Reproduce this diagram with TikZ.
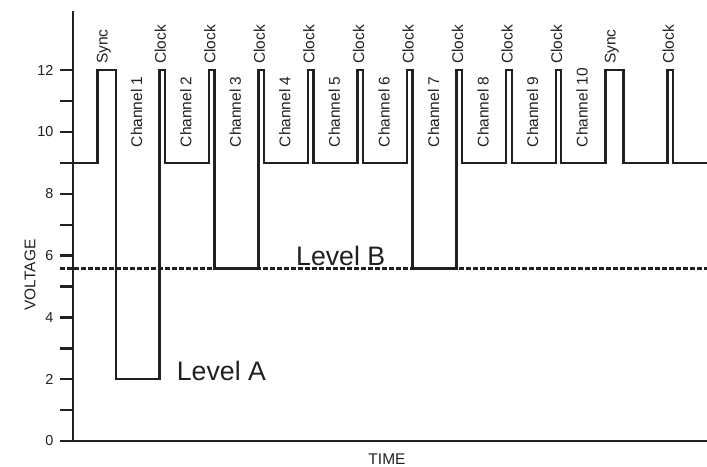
\documentclass[tikz,border=0pt]{standalone}
\usepackage{fontspec}
\setmainfont{Liberation Sans}
\usepackage{xcolor}
\definecolor{sigline}{HTML}{231F20}
\usetikzlibrary{positioning}

\tikzset{
  axisline/.style={line width=2.6pt,sigline},
  tickline/.style={line width=2.4pt,sigline},
  pulse/.style={line width=2.4pt,sigline,line join=miter},
  levelline/.style={line width=2.4pt,sigline,dash pattern=on 4.5pt off 2.5pt},
  ticklabel/.style={anchor=east,inner sep=0pt,font=\fontsize{14.4}{16}\selectfont,text=sigline},
  slotlabel/.style={rotate=90,anchor=west,inner sep=0pt,font=\fontsize{15.5}{18}\selectfont,text=sigline},
  levellabel/.style={anchor=base west,inner sep=0pt,font=\fontsize{26.7}{30}\selectfont,text=sigline},
  axislabel/.style={inner sep=0pt,font=\fontsize{15.5}{18}\selectfont,text=sigline}
}
% levels in pixel rows
\def\yhi{70.2}
\def\ybase{162.9}
\def\ylevA{379.2}
\def\ylevB{268.3}

\begin{document}
\begin{tikzpicture}[x=1pt,y=-1pt]
\useasboundingbox (0,0) rectangle (707,466);

% axes and ticks
\draw[axisline] (73,11) -- (73,441) -- (707,441);
\foreach \v in {0,...,12}
  \draw[tickline] (60,441-30.9*\v) -- (73,441-30.9*\v);
\foreach \v in {0,2,...,12}
  \node[ticklabel] (tick\v) at (53.5,441-30.9*\v) {\v};
\node[axislabel,rotate=90] (voltage) at (30,275) {VOLTAGE};
\node[axislabel,anchor=base] (time) at (387,464) {TIME};

% reference level
\draw[levelline] (60,\ylevB) -- (707,\ylevB);

% pulse train
\draw[pulse] (73,\ybase) -- (97.3,\ybase) -- (97.3,\yhi) -- (116,\yhi)
  -- (116,\ylevA) -- (159.3,\ylevA) -- (159.3,\yhi) -- (164.8,\yhi)
  -- (164.8,\ybase) -- (208.9,\ybase) -- (208.9,\yhi) -- (214.4,\yhi)
  -- (214.4,\ylevB) -- (258.4,\ylevB) -- (258.4,\yhi) -- (263.9,\yhi)
  -- (263.9,\ybase) -- (308,\ybase) -- (308,\yhi) -- (313.5,\yhi)
  -- (313.5,\ybase) -- (357.5,\ybase) -- (357.5,\yhi) -- (363,\yhi)
  -- (363,\ybase) -- (407,\ybase) -- (407,\yhi) -- (412.5,\yhi)
  -- (412.5,\ylevB) -- (456.6,\ylevB) -- (456.6,\yhi) -- (462.1,\yhi)
  -- (462.1,\ybase) -- (506.2,\ybase) -- (506.2,\yhi) -- (511.7,\yhi)
  -- (511.7,\ybase) -- (555.7,\ybase) -- (555.7,\yhi) -- (561.2,\yhi)
  -- (561.2,\ybase) -- (605.3,\ybase) -- (605.3,\yhi) -- (623.5,\yhi)
  -- (623.5,\ybase) -- (667.3,\ybase) -- (667.3,\yhi) -- (672.8,\yhi)
  -- (672.8,\ybase) -- (707,\ybase);

% labels
\node[slotlabel] (sync1) at (103.8,64) {Sync};
\node[slotlabel] (sync2) at (611.8,64) {Sync};
\foreach \k in {0,...,8}
  \node[slotlabel] (clock\k) at (160.3+49.55*\k,64) {Clock};
\node[slotlabel] (clock9) at (668.3,64) {Clock};
\node[slotlabel] (chan1) at (136.7,147.3) {Channel 1};
\foreach \k in {2,...,10}
  \node[slotlabel] (chan\k) at (185.8+49.55*\k-99.1,147.3) {Channel \k};
\node[levellabel] (levA) at (176.7,380.7) {Level A};
\node[levellabel] (levB) at (296,265) {Level B};
\end{tikzpicture}
\end{document}
